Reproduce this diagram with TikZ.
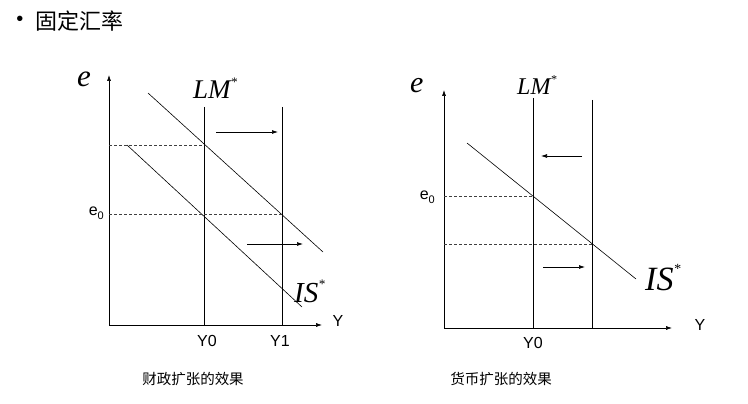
\documentclass[tikz,border=0pt]{standalone}
\usepackage{fontspec}
\usetikzlibrary{arrows.meta}
\setmainfont{Liberation Sans}
\newfontfamily\cjk{Noto Sans CJK SC}
\newfontfamily\tms{Liberation Serif}
\begin{document}
\begin{tikzpicture}[x=1pt,y=-1pt,
  ax/.style={line width=0.6pt,-{Latex[length=6pt,width=4pt]}},
  ln/.style={line width=0.6pt},
  dsh/.style={line width=0.6pt,dash pattern=on 3pt off 2pt,black!75},
  shiftarr/.style={line width=0.7pt,-{Latex[length=6pt,width=4pt]}},
  sans/.style={font=\fontsize{16}{18}\selectfont,inner sep=0pt},
  capt/.style={font=\cjk\fontsize{14.5}{16}\selectfont,inner sep=0pt},
  ital/.style={inner sep=0pt,anchor=base west}]
\useasboundingbox (0,0) rectangle (748,404);
% title
\node[inner sep=0pt,font=\fontsize{20}{20}\selectfont] (bul) at (20,21) {•};
\node[capt,font=\cjk\fontsize{22}{24}\selectfont,anchor=west] (title) at (35,21) {固定汇率};

% ===== left panel =====
\coordinate (LO) at (109,325);
\coordinate (LT) at (109,75);
\coordinate (LX) at (322,325);
\draw[ax] (LO) -- (LT);
\draw[ax] (LO) -- (LX);
\coordinate (L0t) at (204,107); \coordinate (L0b) at (204,325);
\coordinate (L1t) at (282,107); \coordinate (L1b) at (282,325);
\draw[ln] (L0t) -- (L0b);
\draw[ln] (L1t) -- (L1b);
\coordinate (ISa1) at (148,93); \coordinate (ISa2) at (323,252);
\coordinate (ISb1) at (127,145); \coordinate (ISb2) at (302,307);
\draw[ln] (ISa1) -- (ISa2);
\draw[ln] (ISb1) -- (ISb2);
\coordinate (Ld1a) at (109,145); \coordinate (Ld1b) at (204,145);
\coordinate (Ld2a) at (109,214); \coordinate (Ld2b) at (282,214);
\draw[dsh] (Ld1a) -- (Ld1b);
\draw[dsh] (Ld2a) -- (Ld2b);
\coordinate (La1) at (216,132); \coordinate (La2) at (278,132);
\coordinate (Lb1) at (247,244); \coordinate (Lb2) at (303,244);
\draw[shiftarr] (La1) -- (La2);
\draw[shiftarr] (Lb1) -- (Lb2);
\node[ital,font=\tms\itshape\fontsize{31}{31}\selectfont] (Le) at (77,87) {e};
\node[ital,font=\tms\itshape\fontsize{27}{27}\selectfont] (LLM) at (193,99) {LM\raisebox{12pt}{\fontsize{13}{13}\selectfont *}};
\node[ital,font=\tms\itshape\fontsize{29}{29}\selectfont] (LIS) at (294,302) {IS\raisebox{14pt}{\fontsize{13}{13}\selectfont *}};
\node[sans,anchor=east] (Le0) at (104,213) {e\raisebox{-3.5pt}{\fontsize{11}{11}\selectfont 0}};
\node[sans] (LY) at (338,321) {Y};
\node[sans] (LY0) at (207,341) {Y0};
\node[sans] (LY1) at (280,341) {Y1};
\node[capt] (Lcap) at (193,379) {财政扩张的效果};

% ===== right panel =====
\coordinate (RO) at (444,328);
\coordinate (RT) at (444,90);
\coordinate (RX) at (672,328);
\draw[ax] (RO) -- (RT);
\draw[ax] (RO) -- (RX);
\coordinate (R0t) at (533,98); \coordinate (R0b) at (533,328);
\coordinate (R1t) at (592,100); \coordinate (R1b) at (592,328);
\draw[ln] (R0t) -- (R0b);
\draw[ln] (R1t) -- (R1b);
\coordinate (RIS1) at (467,143); \coordinate (RIS2) at (636,279);
\draw[ln] (RIS1) -- (RIS2);
\coordinate (Rd1a) at (444,196); \coordinate (Rd1b) at (533,196);
\coordinate (Rd2a) at (444,244); \coordinate (Rd2b) at (592,244);
\draw[dsh] (Rd1a) -- (Rd1b);
\draw[dsh] (Rd2a) -- (Rd2b);
\coordinate (Ra1) at (582,156); \coordinate (Ra2) at (541,156);
\coordinate (Rb1) at (543,267); \coordinate (Rb2) at (585,267);
\draw[shiftarr] (Ra1) -- (Ra2);
\draw[shiftarr] (Rb1) -- (Rb2);
\node[ital,font=\tms\itshape\fontsize{30}{30}\selectfont] (Re) at (410,93) {e};
\node[ital,font=\tms\itshape\fontsize{24}{24}\selectfont] (RLM) at (517,95) {LM\raisebox{11pt}{\fontsize{12}{12}\selectfont *}};
\node[ital,font=\tms\itshape\fontsize{34}{34}\selectfont] (RIS) at (645,290) {IS\raisebox{17pt}{\fontsize{14}{14}\selectfont *}};
\node[sans,anchor=east] (Re0) at (435,197) {e\raisebox{-3.5pt}{\fontsize{11}{11}\selectfont 0}};
\node[sans] (RY) at (700,325) {Y};
\node[sans] (RY0) at (533,343) {Y0};
\node[capt] (Rcap) at (501,379) {货币扩张的效果};
\end{tikzpicture}
\end{document}
